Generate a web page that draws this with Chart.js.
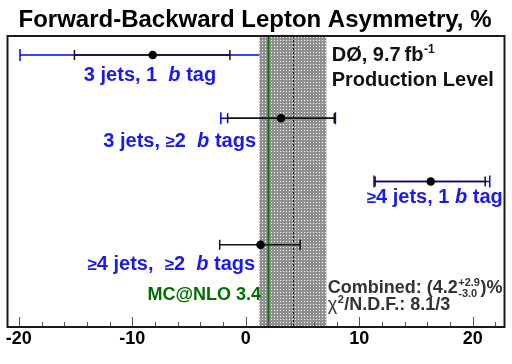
<!DOCTYPE html>
<html><head><meta charset="utf-8">
<script src="https://cdn.jsdelivr.net/npm/chart.js@4/dist/chart.umd.min.js"></script>
<style>html,body{margin:0;padding:0;background:#fff}</style>
</head><body>
<canvas id="c" width="512" height="364"></canvas>
<script>
// ---- data ----
const categories = ['3 jets, 1 b tag', '3 jets, ≥2 b tags', '≥4 jets, 1 b tag', '≥4 jets, ≥2 b tags'];
const rowPos     = [4, 3, 2, 1];
const central    = [-8.2, 3.1, 16.3, 1.3];
const statLow    = [-15.1, -1.6, 11.4, -2.3];
const statHigh   = [-1.4, 7.8, 21.1, 4.8];
const totalLow   = [-19.9, -2.2, 11.3, null];
const totalHigh  = [3.5, 7.9, 21.5, null];
const combinedValue = [4.2];
const combinedErrUp = [2.9];
const combinedErrDown = [3.0];
const mcnloValue = [2.0];
const xTickLabels = [-20, -10, 0, 10, 20];

// ---- styles ----
const FONT = '"Liberation Sans", Arial, Helvetica, sans-serif';
const BLUE_LINE = '#0000ff';
const BLUE_TEXT = '#1a1af0';
const GREEN = '#006f00';

// band pattern
const pc = document.createElement('canvas');
pc.width = 3; pc.height = 3;
const pctx = pc.getContext('2d');
pctx.fillStyle = '#909090'; pctx.fillRect(0, 0, 3, 3);
pctx.fillStyle = '#ffffff'; pctx.fillRect(1, 1, 1, 1);

const datasets = [];
rowPos.forEach((y, i) => {
  if (totalLow[i] !== null) {
    datasets.push({
      label: categories[i] + ' total', showLine: true,
      data: [{x: totalLow[i], y}, {x: totalHigh[i], y}],
      borderColor: BLUE_LINE, borderWidth: 1.5,
      pointStyle: 'line', rotation: 90, pointRadius: 6, pointHoverRadius: 6,
      pointBorderColor: BLUE_LINE, pointBorderWidth: 1.5,
      order: i === 0 ? 10 : 5, bandAfter: i === 0
    });
  }
  datasets.push({
    label: categories[i] + ' stat', showLine: true,
    data: [{x: statLow[i], y}, {x: statHigh[i], y}],
    borderColor: '#111', borderWidth: 1.5,
    pointStyle: 'line', rotation: 90, pointRadius: 5, pointHoverRadius: 5,
    pointBorderColor: '#111', pointBorderWidth: 1.5,
    order: 4
  });
});
datasets.push({
  label: 'central', data: central.map((x, i) => ({x, y: rowPos[i]})),
  pointRadius: 4.3, pointHoverRadius: 4.3, backgroundColor: '#000', borderColor: '#000', borderWidth: 0,
  order: 0
});

// annotations (x,y in data units; y = cap-centre)
const GE = {t: '≥', sc: 0.85};
const notes = [
  {segs: [{t: '3 jets, 1  '}, {t: 'b', it: true}, {t: ' tag'}], x: -14.27, y: 3.70, align: 'left', size: 20, color: BLUE_TEXT},
  {segs: [{t: '3 jets, '}, GE, {t: '2  '}, {t: 'b', it: true}, {t: ' tags'}], x: 0.9, y: 2.66, align: 'right', size: 20, color: BLUE_TEXT},
  {segs: [GE, {t: '4 jets, 1 '}, {t: 'b', it: true}, {t: ' tag'}], x: 22.65, y: 1.77, align: 'right', size: 20, color: BLUE_TEXT},
  {segs: [GE, {t: '4 jets,  '}, GE, {t: '2  '}, {t: 'b', it: true}, {t: ' tags'}], x: 0.82, y: 0.712, align: 'right', size: 20, color: BLUE_TEXT},
  {segs: [{t: 'MC@NLO 3.4'}], x: 1.34, y: 0.222, align: 'right', size: 18, color: GREEN},
  {segs: [{t: 'DØ, 9.7\u2009fb'}, {sup: '-1'}], x: 7.57, y: 4.015, align: 'left', size: 20, color: '#111'},
  {segs: [{t: 'Production Level'}], x: 7.57, y: 3.63, align: 'left', size: 20, color: '#111'},
  {segs: [{t: 'Combined: (4.2'}, {sup: '+2.9', sub: '-3.0'}, {t: ')%'}], x: 7.22, y: 0.332, align: 'left', size: 18, color: '#333'},
  {segs: [{t: 'χ', normal: true}, {sup: '2'}, {t: '/N.D.F.: 8.1/3'}], x: 7.22, y: 0.063, align: 'left', size: 18, color: '#333'}
];

function segFont(s, size) {
  return (s.it ? 'italic ' : '') + (s.normal ? '' : 'bold ') + Math.round(size * (s.sc || 1)) + 'px ' + FONT;
}
function drawRich(ctx, n, px, py) {
  const size = n.size, ss = Math.round(size * 0.6);
  let w = 0;
  const parts = n.segs.map(s => {
    let sw;
    if (s.t !== undefined) { ctx.font = segFont(s, size); sw = ctx.measureText(s.t).width; }
    else {
      ctx.font = 'bold ' + ss + 'px ' + FONT;
      sw = Math.max(ctx.measureText(s.sup || '').width, ctx.measureText(s.sub || '').width) + 1;
    }
    w += sw; return sw;
  });
  let x = n.align === 'right' ? px - w : (n.align === 'center' ? px - w / 2 : px);
  const base = py + 0.358 * size;
  ctx.fillStyle = n.color; ctx.textAlign = 'left'; ctx.textBaseline = 'alphabetic';
  n.segs.forEach((s, k) => {
    if (s.t !== undefined) { ctx.font = segFont(s, size); ctx.fillText(s.t, x, base); }
    else {
      ctx.font = 'bold ' + ss + 'px ' + FONT;
      if (s.sup) ctx.fillText(s.sup, x + 0.5, base - size * 0.42);
      if (s.sub) ctx.fillText(s.sub, x + 0.5, base + size * 0.18);
    }
    x += parts[k];
  });
}

function drawBand(chart) {
  const {ctx, chartArea: a, scales: {x}} = chart;
  const c = combinedValue[0];
  const l = x.getPixelForValue(c - combinedErrDown[0]);
  const r = x.getPixelForValue(c + combinedErrUp[0]);
  ctx.save();
  ctx.fillStyle = ctx.createPattern(pc, 'repeat');
  ctx.fillRect(l, a.top, r - l, a.bottom - a.top);
  const cx = Math.round(x.getPixelForValue(c)) + 0.5;
  ctx.strokeStyle = '#000'; ctx.lineWidth = 1; ctx.setLineDash([2, 2]);
  ctx.beginPath(); ctx.moveTo(cx, a.top); ctx.lineTo(cx, a.bottom); ctx.stroke();
  ctx.setLineDash([]);
  const gx = x.getPixelForValue(mcnloValue[0]);
  ctx.strokeStyle = GREEN; ctx.lineWidth = 1.6;
  ctx.beginPath(); ctx.moveTo(gx, a.top); ctx.lineTo(gx, a.bottom); ctx.stroke();
  ctx.restore();
}

const overlay = {
  id: 'overlay',
  afterDatasetDraw(chart, args) {
    if (chart.data.datasets[args.index].bandAfter) drawBand(chart);
  },
  afterDatasetsDraw(chart) {
    const {ctx, chartArea: a, scales: {x, y}} = chart;
    ctx.save();
    ctx.strokeStyle = '#555'; ctx.lineWidth = 1;
    for (let v = Math.ceil(x.min / 2) * 2; v <= x.max; v += 2) {
      const px = Math.round(x.getPixelForValue(v)) + 0.5;
      const len = (v % 10 === 0) ? 10 : 5;
      ctx.beginPath(); ctx.moveTo(px, a.bottom); ctx.lineTo(px, a.bottom - len); ctx.stroke();
    }
    ctx.strokeStyle = '#1a1a1a'; ctx.lineWidth = 2;
    ctx.strokeRect(a.left, a.top, a.right - a.left, a.bottom - a.top);
    notes.forEach(n => drawRich(ctx, n, x.getPixelForValue(n.x), y.getPixelForValue(n.y)));
    ctx.restore();
  }
};

new Chart(document.getElementById('c'), {
  type: 'scatter',
  data: {datasets},
  options: {
    responsive: false, animation: false, devicePixelRatio: 1,
    layout: {padding: {left: 5, right: 7, top: 0, bottom: 0}},
    plugins: {
      legend: {display: false}, tooltip: {enabled: false},
      title: {display: true, text: 'Forward-Backward Lepton Asymmetry, %', color: '#000',
        font: {family: FONT, size: 24, weight: 'bold', lineHeight: 1.2}, padding: {top: 5.5, bottom: 1.7}}
    },
    scales: {
      x: {
        type: 'linear', min: -21, max: 22.8,
        grid: {display: false}, border: {display: false},
        afterFit: s => { s.height = 37; },
        ticks: {
          stepSize: 10, includeBounds: false, padding: -7, color: '#000',
          font: {family: FONT, size: 18, weight: 'bold'},
          callback: v => xTickLabels.includes(v) ? String(v) : ''
        }
      },
      y: {type: 'linear', min: -0.3, max: 4.3, display: false}
    }
  },
  plugins: [overlay]
});
</script>
</body></html>
